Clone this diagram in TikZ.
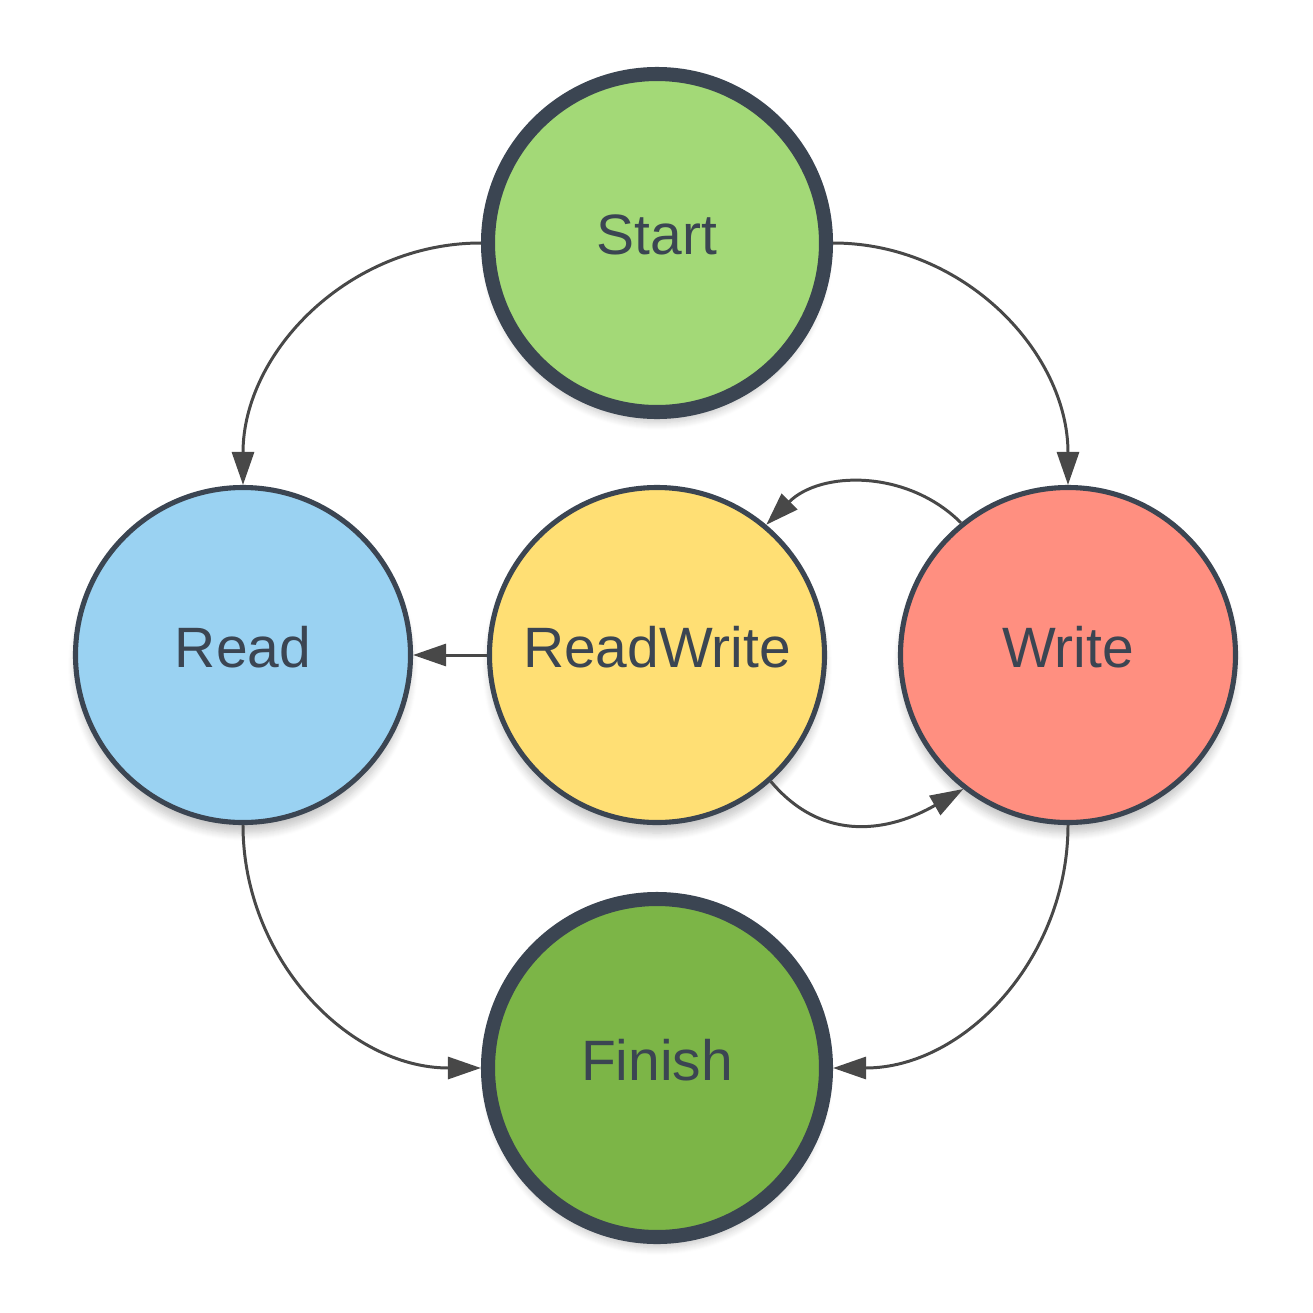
\documentclass[tikz,border=0pt]{standalone}
\usepackage{fontspec}
\setmainfont{Liberation Sans}
\usepackage{tikz}
\usetikzlibrary{arrows.meta,shadows.blur}
\definecolor{rim}{RGB}{59,69,82}
\definecolor{wire}{RGB}{72,72,72}
\definecolor{startgreen}{RGB}{163,217,119}
\definecolor{readblue}{RGB}{154,210,242}
\definecolor{rwyellow}{RGB}{255,223,116}
\definecolor{writered}{RGB}{255,143,128}
\definecolor{finishgreen}{RGB}{124,181,71}
\tikzset{
  state/.style={circle, draw=rim, line width=1.45pt, minimum size=3.35cm, inner sep=0pt,
    text=rim, font=\fontsize{16.2}{19}\selectfont, text depth=0.16cm,
    blur shadow={shadow xshift=0pt, shadow yshift=-3pt, shadow blur steps=8, shadow opacity=22}},
  endstate/.style={state, line width=4pt, minimum size=3.38cm},
  trans/.style={draw=wire, line width=0.85pt, -{Triangle[length=0.33cm,width=0.22cm]}}
}
\begin{document}
\begin{tikzpicture}
\useasboundingbox (0,0) rectangle (13.13,-13.13);
\node[endstate, fill=startgreen] (start) at (6.57,-2.43) {Start};
\node[state, fill=readblue] (read) at (2.43,-6.55) {Read};
\node[state, fill=rwyellow] (rw) at (6.57,-6.55) {ReadWrite};
\node[state, fill=writered] (write) at (10.68,-6.55) {Write};
\node[endstate, fill=finishgreen] (finish) at (6.57,-10.68) {Finish};
\draw[trans] (start.west) to[out=180, in=90] (read.north);
\draw[trans] (start.east) to[out=0, in=90] (write.north);
\draw[trans] (rw.west) -- (read.east);
\draw[trans] (write.129) to[out=135, in=45] (rw.50);
\draw[trans] (rw.-48) to[out=-50, in=210, looseness=1.1] (write.-128);
\draw[trans] (read.south) to[out=-90, in=180] (finish.west);
\draw[trans] (write.south) to[out=-90, in=0] (finish.east);
\end{tikzpicture}
\end{document}
